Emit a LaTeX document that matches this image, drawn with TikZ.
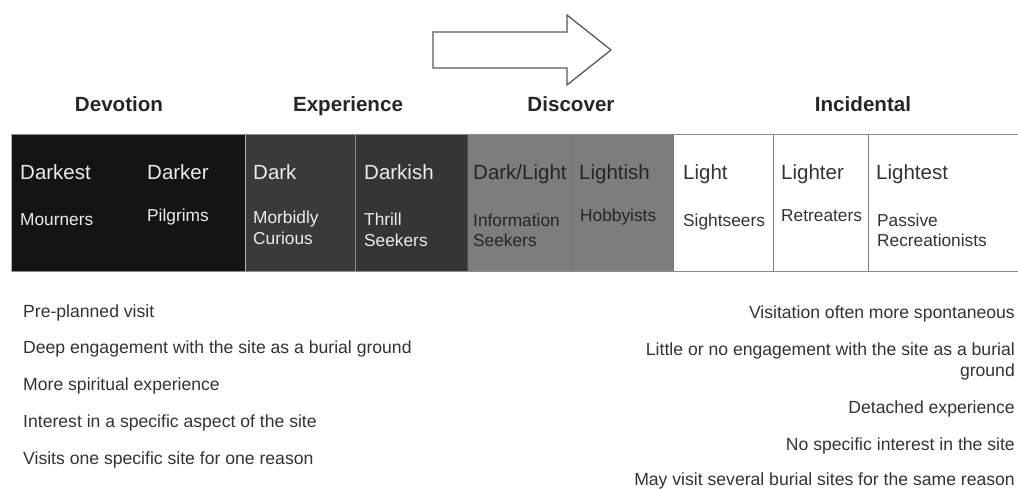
\documentclass[tikz,border=0pt]{standalone}
\usepackage{fontspec}
\setmainfont{Liberation Sans}
\begin{document}
\begin{tikzpicture}[x=1pt,y=-1pt,
  cell/.style={line width=1pt,draw=#1},
  toplab/.style={anchor=base west,inner sep=0pt,font=\fontsize{20.5}{24}\selectfont},
  sublab/.style={anchor=base west,inner sep=0pt,font=\fontsize{17.3}{20}\selectfont},
  head/.style={anchor=base,inner sep=0pt,font=\fontsize{20.6}{24}\selectfont\bfseries,text=black!85},
  lefttxt/.style={anchor=base west,inner sep=0pt,font=\fontsize{17.6}{20}\selectfont,text=black!80},
  righttxt/.style={anchor=base east,inner sep=0pt,font=\fontsize{17.6}{20}\selectfont,text=black!80},
  onDark/.style={text=white!92!black},
  onGrey/.style={text=black!85},
  onWhite/.style={text=black!80},
  bigarrow/.style={draw=black!65,line width=1.3pt,fill=white,line join=miter}]
\useasboundingbox (0,0) rectangle (1018,489);
\definecolor{cblack}{HTML}{141414}
\definecolor{cdarkA}{HTML}{3A3A3A}
\definecolor{cdarkB}{HTML}{353535}
\definecolor{cgrey}{HTML}{7D7D7D}
% arrow
\draw[bigarrow] (433,32) -- (567,32) -- (567,15) -- (611,50) -- (567,85) -- (567,68) -- (433,68) -- cycle;
% headings
\node[head] (hDev) at (119,112) {Devotion};
\node[head] (hExp) at (348,112) {Experience};
\node[head] (hDis) at (571,112) {Discover};
\node[head] (hInc) at (863,112) {Incidental};
% cells
\fill[cblack] (11,135) rectangle (245,272);
\fill[cdarkA] (245,135) rectangle (355,272);
\fill[cdarkB] (355,135) rectangle (467,272);
\fill[cgrey] (467,135) rectangle (572,272);
\fill[cgrey] (572,135) rectangle (674,272);
\draw[cell=black!45] (355,135) -- (355,272);
\draw[cell=black!30] (245,135) -- (245,272);
\draw[cell=black!70] (467,135) -- (467,272);
\draw[cell=black!55] (572,135) -- (572,272);
\draw[cell=black!50] (773,135) -- (773,272);
\draw[cell=black!50] (868,135) -- (868,272);
\draw[cell=black!45] (11,135) -- (1030,135);
\draw[cell=black!45] (11,272) -- (1030,272);
\draw[cell=black!30] (11,135) -- (11,272);
% top labels
\node[toplab,onDark] (l1) at (20,180) {Darkest};
\node[toplab,onDark] (l2) at (147,180) {Darker};
\node[toplab,onDark] (l3) at (253,180) {Dark};
\node[toplab,onDark] (l4) at (364,180) {Darkish};
\node[toplab,onGrey] (l5) at (473,180) {Dark/Light};
\node[toplab,onGrey] (l6) at (579,180) {Lightish};
\node[toplab,onWhite] (l7) at (683,180) {Light};
\node[toplab,onWhite] (l8) at (781,180) {Lighter};
\node[toplab,onWhite] (l9) at (876,180) {Lightest};
% sub labels
\node[sublab,onDark] (s1) at (20,226) {Mourners};
\node[sublab,onDark] (s2) at (147,222) {Pilgrims};
\node[sublab,onDark] (s3a) at (253,224) {Morbidly};
\node[sublab,onDark] (s3b) at (253,245) {Curious};
\node[sublab,onDark] (s4a) at (364,226) {Thrill};
\node[sublab,onDark] (s4b) at (364,247) {Seekers};
\node[sublab,onGrey] (s5a) at (473,227) {Information};
\node[sublab,onGrey] (s5b) at (473,247) {Seekers};
\node[sublab,onGrey] (s6) at (580,222) {Hobbyists};
\node[sublab,onWhite] (s7) at (683,227) {Sightseers};
\node[sublab,onWhite] (s8) at (781,222) {Retreaters};
\node[sublab,onWhite] (s9a) at (877,227) {Passive};
\node[sublab,onWhite] (s9b) at (877,247) {Recreationists};
% left texts
\node[lefttxt] (t1) at (23,317) {Pre-planned visit};
\node[lefttxt] (t2) at (23,353) {Deep engagement with the site as a burial ground};
\node[lefttxt] (t3) at (23,390) {More spiritual experience};
\node[lefttxt] (t4) at (23,427) {Interest in a specific aspect of the site};
\node[lefttxt] (t5) at (23,464) {Visits one specific site for one reason};
% right texts
\node[righttxt] (r1) at (1015,318) {Visitation often more spontaneous};
\node[righttxt] (r2a) at (1015,355) {Little or no engagement with the site as a burial};
\node[righttxt] (r2b) at (1015,376) {ground};
\node[righttxt] (r3) at (1015,413) {Detached experience};
\node[righttxt] (r4) at (1015,450) {No specific interest in the site};
\node[righttxt] (r5) at (1015,485) {May visit several burial sites for the same reason};
\end{tikzpicture}
\end{document}
